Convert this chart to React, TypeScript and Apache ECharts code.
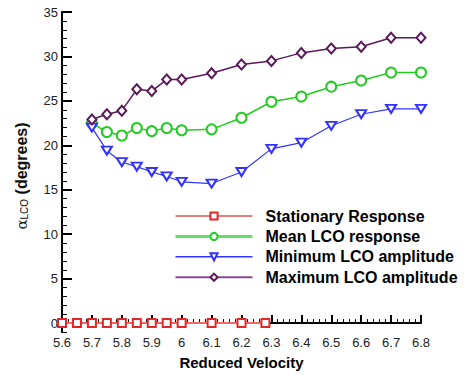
import React, { useEffect, useRef } from "react";
import * as echarts from "echarts";

// Reduced velocity stations
const stationaryX = [5.6, 5.65, 5.7, 5.75, 5.8, 5.85, 5.9, 5.95, 6.0, 6.1, 6.2, 6.28];
const stationaryY = [0, 0, 0, 0, 0, 0, 0, 0, 0, 0, 0, 0];

const lcoX = [5.7, 5.75, 5.8, 5.85, 5.9, 5.95, 6.0, 6.1, 6.2, 6.3, 6.4, 6.5, 6.6, 6.7, 6.8];
const meanLco = [22.5, 21.5, 21.1, 21.95, 21.6, 21.95, 21.7, 21.8, 23.1, 24.9, 25.5, 26.6, 27.3, 28.2, 28.2];
const minLco = [22.0, 19.4, 18.1, 17.6, 17.0, 16.5, 15.9, 15.7, 17.0, 19.6, 20.3, 22.2, 23.5, 24.1, 24.1];
const maxLco = [22.9, 23.5, 23.9, 26.3, 26.1, 27.4, 27.4, 28.1, 29.1, 29.5, 30.4, 30.9, 31.1, 32.1, 32.1];

const yMajorTicks = [0, 5, 10, 15, 20, 25, 30, 35];

const seriesNames = [
  "Stationary Response",
  "Mean LCO response",
  "Minimum LCO amplitude",
  "Maximum LCO amplitude",
];

const FONT = "'Liberation Sans', Arial, sans-serif";

const pair = (xs: number[], ys: number[]) => xs.map((x, i) => [x, ys[i]]);

export default function App() {
  const ref = useRef<HTMLDivElement>(null);

  useEffect(() => {
    if (!ref.current) return;
    const chart = echarts.init(ref.current, null, { renderer: "svg" });

    const tickLabel = { fontFamily: FONT, fontSize: 13, color: "#222" };

    chart.setOption({
      animation: false,
      backgroundColor: "#fff",
      grid: { left: 62, right: 50, top: 12, bottom: 35 },
      xAxis: {
        type: "value",
        min: 5.6,
        max: 6.8,
        interval: 0.1,
        splitLine: { show: false },
        axisLine: { lineStyle: { color: "#000", width: 2 } },
        axisTick: { inside: true, length: 8, lineStyle: { color: "#000", width: 2 } },
        minorTick: { show: true, splitNumber: 5, length: 4, lineStyle: { color: "#000", width: 1 } },
        axisLabel: { ...tickLabel, margin: 4, formatter: (v: number) => String(Math.round(v * 10) / 10) },
        name: "Reduced Velocity",
        nameLocation: "middle",
        nameGap: 23,
        nameTextStyle: { fontFamily: FONT, fontSize: 15, fontWeight: "bold", color: "#000" },
      },
      yAxis: [
        {
          // labelled axis: major ticks every 5 degrees
          type: "value",
          min: -1,
          max: 35,
          splitLine: { show: false },
          axisLine: { lineStyle: { color: "#000", width: 2 } },
          axisTick: { inside: true, length: 10, customValues: yMajorTicks, lineStyle: { color: "#000", width: 2 } },
          axisLabel: { ...tickLabel, margin: 4, customValues: yMajorTicks },
          z: 3,
        },
        {
          // overlay axis carrying the 1-degree minor ticks
          type: "value",
          position: "left",
          offset: 0,
          min: -1,
          max: 35,
          interval: 1,
          splitLine: { show: false },
          axisLine: { show: true, lineStyle: { color: "#000", width: 2 } },
          axisTick: { show: true, inside: true, length: 5, lineStyle: { color: "#000", width: 1 } },
          axisLabel: { show: false },
        },
      ],
      legend: {
        orient: "vertical",
        left: 174,
        top: 208,
        padding: 0,
        itemWidth: 77,
        itemHeight: 9,
        itemGap: 4.4,
        textStyle: { fontFamily: FONT, fontSize: 16, fontWeight: "bold", color: "#000", padding: [0, 0, 0, 8], lineHeight: 16 },
        data: [
          { name: seriesNames[0], lineStyle: { color: "#cc0000", width: 1.2 } },
          { name: seriesNames[1], lineStyle: { color: "#66dd66", width: 3 } },
          { name: seriesNames[2], lineStyle: { color: "#3333ff", width: 1.5 } },
          { name: seriesNames[3], lineStyle: { color: "#8a4a8a", width: 2 } },
        ],
      },
      graphic: [
        {
          type: "text",
          x: 20,
          y: 176,
          rotation: Math.PI / 2,
          style: {
            text: "{a|α}{s|LCO}{b| (degrees)}",
            align: "center",
            verticalAlign: "middle",
            fill: "#111",
            rich: {
              a: { fontFamily: "'DejaVu Serif', serif", fontSize: 15, fill: "#111", verticalAlign: "bottom", lineHeight: 19 },
              s: { fontFamily: FONT, fontSize: 10, fill: "#111", verticalAlign: "bottom", lineHeight: 14 },
              b: { fontFamily: FONT, fontSize: 16, fontWeight: "bold", fill: "#111", verticalAlign: "bottom", lineHeight: 19 },
            },
          },
        },
      ],
      series: [
        {
          name: seriesNames[0],
          type: "line",
          data: pair(stationaryX, stationaryY),
          symbol: "emptyRect",
          symbolSize: 8,
          color: "#e02828",
          lineStyle: { color: "#ee6a6a", width: 2 },
          itemStyle: { color: "#e02828", borderWidth: 1 },
          clip: false,
          z: 3,
        },
        {
          name: seriesNames[1],
          type: "line",
          data: pair(lcoX, meanLco),
          symbol: "emptyCircle",
          symbolSize: 10,
          color: "#22cc22",
          lineStyle: { color: "#22cc22", width: 1.5 },
          itemStyle: { color: "#22cc22", borderWidth: 1.2 },
        },
        {
          name: seriesNames[2],
          type: "line",
          data: pair(lcoX, minLco),
          symbol: "emptyTriangle",
          symbolRotate: 180,
          symbolSize: [10, 8],
          color: "#3333ff",
          lineStyle: { color: "#3333ff", width: 1.2 },
          itemStyle: { color: "#3333ff", borderWidth: 1.2 },
        },
        {
          name: seriesNames[3],
          type: "line",
          data: pair(lcoX, maxLco),
          symbol: "emptyDiamond",
          symbolSize: [9, 10],
          color: "#5a1a5a",
          lineStyle: { color: "#5a1a5a", width: 1.5 },
          itemStyle: { color: "#5a1a5a", borderWidth: 1.2 },
        },
      ],
    });

    return () => chart.dispose();
  }, []);

  return (
    <div
      ref={ref}
      style={{ position: "fixed", left: 0, top: 0, width: 471, height: 375 }}
    />
  );
}
